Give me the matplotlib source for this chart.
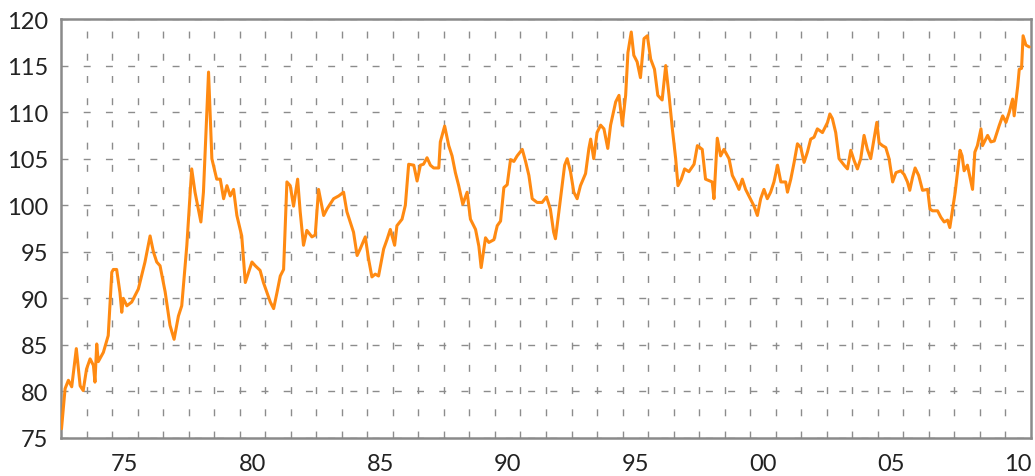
import matplotlib
matplotlib.use("Agg")
import matplotlib.pyplot as plt
from matplotlib.ticker import FixedLocator, FixedFormatter

# ---- data ----
years = [
    1973.02, 1973.16, 1973.29, 1973.42, 1973.60, 1973.75, 1973.87, 1974.00, 1974.14, 1974.27,
    1974.33, 1974.40, 1974.46, 1974.66, 1974.85, 1974.99, 1975.05, 1975.18, 1975.31, 1975.38,
    1975.44, 1975.58, 1975.77, 1976.03, 1976.29, 1976.49, 1976.62, 1976.75, 1976.88, 1977.08,
    1977.27, 1977.43, 1977.60, 1977.73, 1977.93, 1978.12, 1978.25, 1978.48, 1978.58, 1978.78,
    1978.91, 1979.10, 1979.24, 1979.37, 1979.50, 1979.63, 1979.76, 1979.89, 1980.08, 1980.22,
    1980.35, 1980.48, 1980.61, 1980.80, 1980.93, 1981.20, 1981.33, 1981.46, 1981.59, 1981.72,
    1981.85, 1981.98, 1982.11, 1982.27, 1982.37, 1982.50, 1982.63, 1982.83, 1982.96, 1983.09,
    1983.29, 1983.42, 1983.68, 1983.88, 1984.07, 1984.20, 1984.46, 1984.60, 1984.72, 1984.92,
    1985.05, 1985.18, 1985.31, 1985.44, 1985.64, 1985.77, 1985.90, 1986.07, 1986.16, 1986.36,
    1986.49, 1986.62, 1986.82, 1986.95, 1987.08, 1987.20, 1987.34, 1987.47, 1987.60, 1987.80,
    1987.86, 1988.03, 1988.19, 1988.32, 1988.45, 1988.58, 1988.74, 1988.91, 1989.04, 1989.24,
    1989.37, 1989.46, 1989.63, 1989.76, 1989.96, 1990.09, 1990.22, 1990.35, 1990.48, 1990.61,
    1990.74, 1990.87, 1991.07, 1991.20, 1991.33, 1991.46, 1991.65, 1991.85, 1992.02, 1992.17,
    1992.30, 1992.37, 1992.50, 1992.63, 1992.73, 1992.83, 1992.96, 1993.09, 1993.22, 1993.35,
    1993.55, 1993.68, 1993.75, 1993.87, 1994.00, 1994.14, 1994.27, 1994.42, 1994.53, 1994.73,
    1994.86, 1994.99, 1995.12, 1995.21, 1995.34, 1995.44, 1995.57, 1995.70, 1995.84, 1995.97,
    1996.10, 1996.25, 1996.38, 1996.55, 1996.69, 1996.82, 1996.95, 1997.08, 1997.17, 1997.30,
    1997.43, 1997.60, 1997.80, 1997.93, 1998.12, 1998.25, 1998.51, 1998.58, 1998.71, 1998.84,
    1998.97, 1999.17, 1999.30, 1999.43, 1999.56, 1999.69, 1999.82, 1999.95, 2000.15, 2000.28,
    2000.41, 2000.54, 2000.67, 2000.80, 2000.93, 2001.07, 2001.20, 2001.39, 2001.46, 2001.59,
    2001.72, 2001.85, 2001.98, 2002.11, 2002.24, 2002.37, 2002.50, 2002.63, 2002.83, 2003.03,
    2003.12, 2003.22, 2003.35, 2003.48, 2003.68, 2003.81, 2003.94, 2004.07, 2004.20, 2004.33,
    2004.46, 2004.59, 2004.72, 2004.85, 2004.96, 2005.05, 2005.18, 2005.31, 2005.44, 2005.58,
    2005.71, 2005.90, 2006.03, 2006.16, 2006.25, 2006.36, 2006.46, 2006.60, 2006.75, 2006.95,
    2007.04, 2007.14, 2007.34, 2007.47, 2007.60, 2007.73, 2007.82, 2007.95, 2008.03, 2008.12,
    2008.22, 2008.30, 2008.38, 2008.51, 2008.65, 2008.71, 2008.80, 2008.90, 2009.04, 2009.10,
    2009.30, 2009.43, 2009.56, 2009.76, 2009.89, 2010.02, 2010.15, 2010.28, 2010.34, 2010.48,
    2010.54, 2010.63, 2010.69, 2010.80, 2010.93,
]
index_values = [
    76.0, 80.3, 81.2, 80.5, 84.6, 80.6, 80.1, 82.4, 83.5, 82.8,
    81.0, 85.1, 83.2, 84.2, 86.0, 92.8, 93.1, 93.1, 90.6, 88.5,
    90.0, 89.2, 89.6, 91.0, 93.9, 96.7, 95.0, 93.9, 93.5, 90.7,
    87.1, 85.6, 88.1, 89.2, 95.7, 103.9, 101.4, 98.2, 101.4, 114.3,
    105.0, 102.8, 102.8, 100.7, 102.1, 101.0, 101.7, 98.9, 96.7, 91.7,
    92.8, 93.9, 93.5, 93.0, 91.7, 89.6, 88.9, 90.6, 92.4, 93.1,
    102.5, 102.1, 99.9, 102.8, 99.3, 95.7, 97.3, 96.6, 96.8, 101.7,
    98.9, 99.6, 100.7, 101.0, 101.4, 99.3, 97.1, 94.6, 95.3, 96.6,
    94.2, 92.3, 92.6, 92.4, 95.3, 96.3, 97.4, 95.7, 97.8, 98.5,
    100.0, 104.4, 104.3, 102.6, 104.3, 104.4, 105.1, 104.3, 104.0, 104.0,
    106.8, 108.5, 106.4, 105.3, 103.5, 102.1, 100.1, 101.4, 98.5, 97.4,
    95.6, 93.3, 96.5, 96.0, 96.3, 97.8, 98.3, 101.9, 102.2, 104.9,
    104.7, 105.3, 106.0, 104.7, 103.2, 100.7, 100.3, 100.3, 100.9, 99.6,
    97.1, 96.4, 99.2, 102.1, 104.3, 105.0, 103.6, 101.4, 100.7, 102.1,
    103.4, 106.1, 107.1, 105.0, 107.8, 108.6, 108.2, 106.1, 108.6, 111.1,
    111.8, 108.6, 111.8, 116.4, 118.6, 116.1, 115.4, 113.7, 117.9, 118.2,
    115.7, 114.6, 111.8, 111.3, 115.0, 111.8, 108.2, 105.0, 102.1, 102.8,
    103.9, 103.6, 104.4, 106.4, 106.0, 102.8, 102.5, 100.7, 107.2, 105.3,
    106.0, 105.0, 103.2, 102.5, 101.7, 102.8, 101.7, 101.0, 99.9, 98.9,
    100.7, 101.7, 100.7, 101.4, 102.5, 104.3, 102.5, 102.5, 101.4, 102.8,
    104.6, 106.6, 106.2, 104.6, 105.7, 107.1, 107.3, 108.2, 107.8, 108.9,
    109.8, 109.3, 107.8, 105.0, 104.3, 103.9, 105.9, 104.8, 103.9, 105.0,
    107.5, 106.0, 105.0, 107.1, 108.9, 106.7, 106.4, 106.2, 105.0, 102.5,
    103.5, 103.7, 103.3, 102.5, 101.6, 103.0, 104.0, 103.2, 101.6, 101.7,
    99.6, 99.4, 99.4, 98.7, 98.2, 98.4, 97.6, 100.0, 101.4, 103.5,
    105.9, 105.3, 103.7, 104.3, 102.5, 101.7, 105.7, 106.4, 108.2, 106.4,
    107.5, 106.8, 106.9, 108.6, 109.6, 108.9, 110.0, 111.4, 109.6, 112.8,
    114.6, 114.7, 118.2, 117.2, 117.0,
]
x_tick_labels = ["75", "80", "85", "90", "95", "00", "05", "10"]
x_label_years = [1975, 1980, 1985, 1990, 1995, 2000, 2005, 2010]
y_ticks = [75, 80, 85, 90, 95, 100, 105, 110, 115, 120]

# ---- figure ----
plt.rcParams['font.family'] = ['Lato', 'DejaVu Sans']
fig = plt.figure(figsize=(10.35, 4.77), dpi=100)
ax = fig.add_axes([61 / 1035, 38 / 477, 970 / 1035, 419 / 477])

ax.plot(years, index_values, color="#FF8A12", linewidth=2.2,
        solid_joinstyle="round", solid_capstyle="round", zorder=3)

ax.set_xlim(1973, 2011)
ax.set_ylim(75, 120)

# labels centred within each labelled year
ax.xaxis.set_major_locator(FixedLocator([y + 0.5 for y in x_label_years]))
ax.xaxis.set_major_formatter(FixedFormatter(x_tick_labels))
ax.xaxis.set_minor_locator(FixedLocator(list(range(1974, 2011))))
ax.set_yticks(y_ticks)

ax.tick_params(axis="x", which="both", length=0, pad=11, labelsize=17, labelcolor="#222222")
ax.tick_params(axis="y", which="both", length=0, pad=9, labelsize=17, labelcolor="#222222")

grid_kw = dict(color="#8c8c8c", linewidth=1.0, linestyle=(0, (5, 11)))
ax.grid(False)
ax.xaxis.grid(True, which="minor", **grid_kw)
ax.yaxis.grid(True, which="major", **grid_kw)
ax.set_axisbelow(True)

for side in ["left", "bottom", "top", "right"]:
    ax.spines[side].set_color("#8a8a8a")
    ax.spines[side].set_linewidth(1.8)

fig.savefig("out.png", dpi=100, facecolor="white")
